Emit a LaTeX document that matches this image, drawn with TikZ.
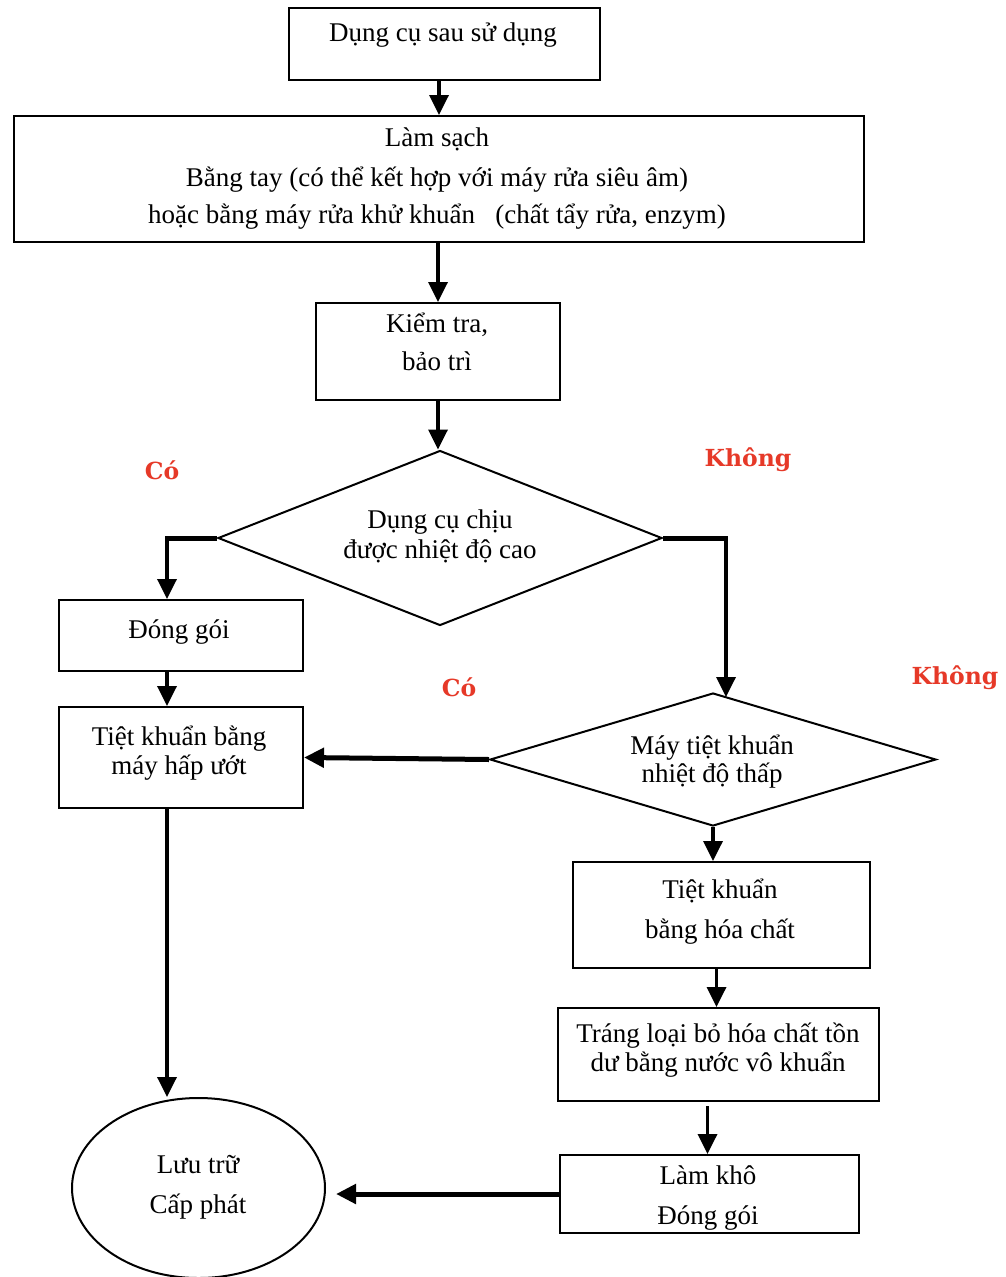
\documentclass[tikz,border=0pt]{standalone}
\usepackage{fontspec}
\setmainfont{Liberation Serif}
\newfontfamily\lblfont{DejaVu Serif}
\usetikzlibrary{shapes.geometric,arrows.meta}
\definecolor{lblred}{RGB}{230,57,40}
\begin{document}
\begin{tikzpicture}[x=1pt,y=-1pt,
  box/.style={draw,line width=2pt,rectangle,inner sep=0pt},
  dia/.style={draw,line width=2pt,diamond,inner sep=0pt},
  oval/.style={draw,line width=2pt,ellipse,inner sep=0pt},
  txt/.style={font=\fontsize{27}{31}\selectfont,anchor=base,inner sep=0pt},
  lbl/.style={font=\lblfont\bfseries\fontsize{23.5}{26}\selectfont,text=lblred,inner sep=0pt},
  conn/.style={line width=3.5pt,-{Triangle[length=20pt,width=19pt]}},
  fat/.style={line width=5pt},
]
\useasboundingbox (0,0) rectangle (1005,1277);
% shapes
\node[box,minimum width=311pt,minimum height=72pt] (b1) at (444.5,44) {};
\node[box,minimum width=850pt,minimum height=126pt] (b2) at (439,179) {};
\node[box,minimum width=244pt,minimum height=97pt] (b3) at (438,351.5) {};
\node[dia,minimum width=444pt,minimum height=175pt] (d1) at (440,538) {};
\node[box,minimum width=244pt,minimum height=71pt] (dg) at (181,635.5) {};
\node[box,minimum width=244pt,minimum height=101pt] (tk1) at (181,757.5) {};
\node[dia,minimum width=446pt,minimum height=133pt] (d2) at (713,759.5) {};
\node[box,minimum width=297pt,minimum height=106pt] (hc) at (721.5,915) {};
\node[box,minimum width=321pt,minimum height=93pt] (tr) at (718.5,1054.5) {};
\node[box,minimum width=299pt,minimum height=78pt] (lk) at (709.5,1194) {};
\node[oval,minimum width=253pt,minimum height=180pt] (lt) at (198.5,1188) {};
% texts
\node[txt] (t1) at (443,41) {Dụng cụ sau sử dụng};
\node[txt] (t2a) at (437,146) {Làm sạch};
\node[txt] (t2b) at (437,186) {Bằng tay (có thể kết hợp với máy rửa siêu âm)};
\node[txt] (t2c) at (437,223) {hoặc bằng máy rửa khử khuẩn\hspace{0.75em}(chất tẩy rửa, enzym)};
\node[txt] (t3a) at (437,332) {Kiểm tra,};
\node[txt] (t3b) at (437,370) {bảo trì};
\node[txt] (t4a) at (440,528) {Dụng cụ chịu};
\node[txt] (t4b) at (440,558) {được nhiệt độ cao};
\node[txt] (t5) at (179,638) {Đóng gói};
\node[txt] (t6a) at (179,745) {Tiệt khuẩn bằng};
\node[txt] (t6b) at (179,774) {máy hấp ướt};
\node[txt] (t7a) at (712,754) {Máy tiệt khuẩn};
\node[txt] (t7b) at (712,782) {nhiệt độ thấp};
\node[txt] (t8a) at (720,898) {Tiệt khuẩn};
\node[txt] (t8b) at (720,938) {bằng hóa chất};
\node[txt] (t9a) at (718,1042) {Tráng loại bỏ hóa chất tồn};
\node[txt] (t9b) at (718,1071) {dư bằng nước vô khuẩn};
\node[txt] (t10a) at (708,1184) {Làm khô};
\node[txt] (t10b) at (708,1224) {Đóng gói};
\node[txt] (t11a) at (198,1173) {Lưu trữ};
\node[txt] (t11b) at (198,1213) {Cấp phát};
% red labels
\node[lbl] (c1) at (162,470) {Có};
\node[lbl] (k1) at (748,460) {Không};
\node[lbl] (c2) at (459,687) {Có};
\node[lbl] (k2l) at (955,678) {Không};
% helper coordinates
\coordinate (cL) at ([xshift=-14pt]dg.north);
\coordinate (k2) at (726,697);
% connectors
\draw[conn] (b1.south -| b2.north) -- (b2.north);
\draw[conn] (b2.south -| b3.north) -- (b3.north);
\draw[conn] (b3.south) -- (b3.south |- d1.north);
\draw[fat] (d1.west) -- (d1.west -| cL);
\draw[conn] (d1.west) -| (cL);
\draw[fat] (d1.east) -- (d1.east -| k2);
\draw[conn] (d1.east) -| (k2);
\draw[conn] ([xshift=-14pt]dg.south) -- ([xshift=-14pt]dg.south |- tk1.north);
\draw[conn,line width=5pt] (d2.west) -- (tk1.east);
\draw[conn] (d2.south) -- (d2.south |- hc.north);
\draw[conn] ([xshift=-5pt]hc.south) -- ([xshift=-5pt]hc.south |- tr.north);
\draw[conn] ([xshift=-11pt,yshift=-4pt]tr.south) -- ([xshift=-11pt]tr.south |- lk.north);
\draw[conn,line width=5pt] (lk.west) -- ([xshift=10pt]lt.east |- lk.west);
\draw[conn] ([xshift=-14pt]tk1.south) -- ([xshift=-14pt]tk1.south |- lt.north);
\end{tikzpicture}
\end{document}
